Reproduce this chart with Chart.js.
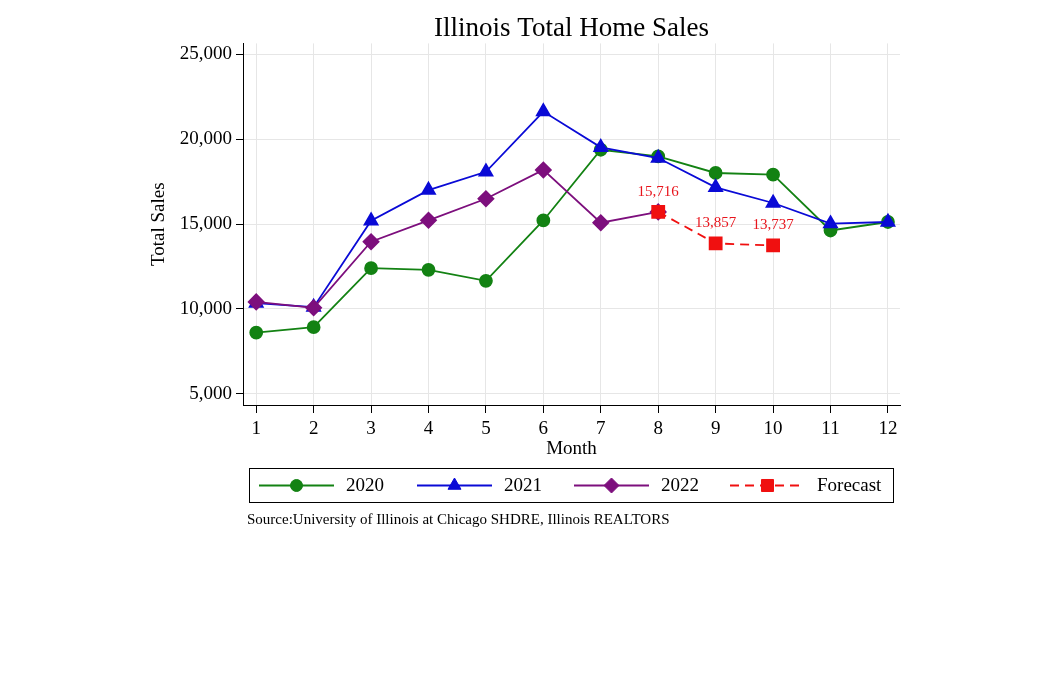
<!DOCTYPE html>
<html><head><meta charset="utf-8">
<script src="https://cdn.jsdelivr.net/npm/chart.js@4.4.1/dist/chart.umd.min.js"></script>
<style>html,body{margin:0;padding:0;background:#fff;overflow:hidden}#wrap{width:1054px;height:682px;position:relative}</style>
</head><body><div id="wrap"><canvas id="c" width="1054" height="682"></canvas></div>
<script>
const chartTitle = 'Illinois Total Home Sales';
const sourceText = 'Source:University of Illinois at Chicago SHDRE, Illinois REALTORS';
const months = [1,2,3,4,5,6,7,8,9,10,11,12];
const sales2020 = [8600, 8920, 12400, 12300, 11650, 15210, 19380, 18990, 18010, 17910, 14620, 15120];
const sales2021 = [10340, 10100, 15190, 17000, 18080, 21630, 19520, 18890, 17160, 16240, 15020, 15120];
const sales2022 = [10410, 10060, 13960, 15220, 16490, 18190, 15080, 15716];
const forecastMonths = [8, 9, 10];
const forecastValues = [15716, 13857, 13737];
const yTicks = [5000, 10000, 15000, 20000, 25000];
const seriesNames = ['2020', '2021', '2022', 'Forecast'];

const SERIF = '"Liberation Serif", "Times New Roman", serif';
const COLORS = { g: '#138213', b: '#0a0ad6', p: '#7d0f7d', r: '#f01010' };

function pts(xs, ys) { return ys.map((v, i) => ({ x: xs[i], y: v })); }

function drawMarker(ctx, style, x, y, r, color) {
  ctx.save();
  ctx.fillStyle = color; ctx.strokeStyle = color; ctx.lineWidth = 1;
  ctx.beginPath();
  if (style === 'circle') { ctx.arc(x, y, r, 0, Math.PI * 2); }
  else if (style === 'triangle') {
    ctx.moveTo(x, y - r);
    ctx.lineTo(x + r * Math.sin(Math.PI * 2 / 3), y + r * 0.5);
    ctx.lineTo(x - r * Math.sin(Math.PI * 2 / 3), y + r * 0.5);
    ctx.closePath();
  } else if (style === 'rectRot') {
    ctx.moveTo(x, y - r); ctx.lineTo(x + r, y); ctx.lineTo(x, y + r); ctx.lineTo(x - r, y); ctx.closePath();
  } else { const h = r * Math.SQRT1_2; ctx.rect(x - h, y - h, 2 * h, 2 * h); }
  ctx.fill(); ctx.stroke();
  ctx.restore();
}

const legendPlugin = {
  id: 'boxLegend',
  afterDraw(chart) {
    const ctx = chart.ctx, ca = chart.chartArea;
    const left = ca.left + 6, right = ca.right - 7, top = ca.bottom + 63, h = 34;
    ctx.save();
    ctx.strokeStyle = '#000'; ctx.lineWidth = 1;
    ctx.strokeRect(left + 0.5, top + 0.5, right - left, h);
    const cy = top + h / 2 + 0.5;
    const starts = [left + 10, left + 168, left + 325, left + 481];
    chart.data.datasets.forEach((ds, i) => {
      const x0 = starts[i];
      ctx.save();
      ctx.strokeStyle = ds.borderColor; ctx.lineWidth = 2;
      ctx.setLineDash(ds.borderDash || []);
      ctx.beginPath(); ctx.moveTo(x0, cy); ctx.lineTo(x0 + 75, cy); ctx.stroke();
      ctx.restore();
      drawMarker(ctx, ds.pointStyle, x0 + 37.5, cy, ds.pointRadius, ds.pointBackgroundColor);
      ctx.fillStyle = '#000'; ctx.font = '19px ' + SERIF;
      ctx.textAlign = 'left'; ctx.textBaseline = 'middle';
      ctx.fillText(ds.label, x0 + 87, cy + 1);
    });
    ctx.font = '15px ' + SERIF; ctx.fillStyle = '#000';
    ctx.textAlign = 'left'; ctx.textBaseline = 'middle';
    ctx.fillText(sourceText, ca.left + 4, ca.bottom + 115);
    ctx.restore();
  }
};

const labelPlugin = {
  id: 'fcLabels',
  afterDatasetsDraw(chart) {
    const idx = chart.data.datasets.findIndex(d => d.label === 'Forecast');
    const meta = chart.getDatasetMeta(idx);
    const ctx = chart.ctx;
    ctx.save();
    ctx.font = '15px ' + SERIF; ctx.fillStyle = '#e8141c';
    ctx.textAlign = 'center'; ctx.textBaseline = 'middle';
    meta.data.forEach((el, i) => {
      ctx.fillText(forecastValues[i].toLocaleString('en-US'), el.x, el.y - 20);
    });
    ctx.restore();
  }
};

function mk(label, data, color, style, r, order, dash) {
  return {
    label, data, borderColor: color, backgroundColor: color,
    pointBackgroundColor: color, pointBorderColor: color,
    pointStyle: style, pointRadius: r, pointHoverRadius: r,
    borderWidth: 1.8, borderDash: dash, order, tension: 0, fill: false
  };
}

new Chart(document.getElementById('c'), {
  type: 'line',
  data: {
    datasets: [
      mk(seriesNames[0], pts(months, sales2020), COLORS.g, 'circle', 6, 4),
      mk(seriesNames[1], pts(months, sales2021), COLORS.b, 'triangle', 7.5, 3),
      mk(seriesNames[2], pts(months, sales2022), COLORS.p, 'rectRot', 7.5, 2),
      mk(seriesNames[3], pts(forecastMonths, forecastValues), COLORS.r, 'rect', 8.5, 1, [9, 6])
    ]
  },
  options: {
    responsive: false, animation: false, devicePixelRatio: 1,
    layout: { padding: { left: 144, right: 154, top: 0, bottom: 220 } },
    plugins: {
      legend: { display: false }, tooltip: { enabled: false },
      title: { display: true, text: chartTitle, fullSize: false, color: '#000',
        font: { family: SERIF, size: 27, weight: 'normal' }, padding: { top: 13, bottom: -2 } }
    },
    scales: {
      x: {
        type: 'linear', min: 0.77, max: 12.21,
        afterBuildTicks: s => { s.ticks = months.map(v => ({ value: v })); },
        afterFit: s => { s.height = 57; },
        ticks: { color: '#000', font: { family: SERIF, size: 19 }, padding: 5, maxRotation: 0, autoSkip: false,
          callback: v => String(v) },
        grid: { color: '#e6e6e6', lineWidth: 1, tickColor: '#000', tickLength: 8 },
        border: { display: true, color: '#000', width: 1 },
        title: { display: true, text: 'Month', color: '#000', font: { family: SERIF, size: 19 }, padding: { top: 0, bottom: 2 } }
      },
      y: {
        min: 4330, max: 25650,
        afterBuildTicks: s => { s.ticks = yTicks.map(v => ({ value: v })); },
        afterFit: s => { s.width = 99; },
        ticks: { color: '#000', font: { family: SERIF, size: 19 }, padding: 4,
          callback: v => Number(v).toLocaleString('en-US') },
        grid: { color: '#e6e6e6', lineWidth: 1, tickColor: '#000', tickLength: 7 },
        border: { display: true, color: '#000', width: 1 },
        title: { display: true, text: 'Total Sales', color: '#000', font: { family: SERIF, size: 19 }, padding: { top: 4, bottom: 0 } }
      }
    }
  },
  plugins: [legendPlugin, labelPlugin]
});
</script></body></html>
